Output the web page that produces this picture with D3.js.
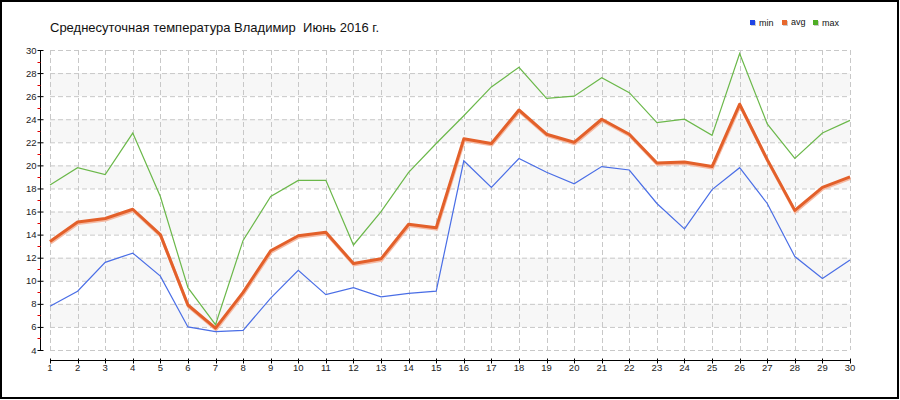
<!DOCTYPE html>
<html><head><meta charset="utf-8">
<script src="https://cdnjs.cloudflare.com/ajax/libs/d3/7.8.5/d3.min.js"></script>
<style>body{margin:0;background:#fff}svg{display:block}text{font-family:"Liberation Sans",Arial,sans-serif}</style>
</head><body><svg id="c" width="900" height="400"></svg>
<script>
const title = "Среднесуточная температура Владимир  Июнь 2016 г.";
const days = d3.range(1, 31);
const minVals = [7.8,9.1,11.6,12.4,10.4,6.0,5.6,5.7,8.5,10.9,8.8,9.4,8.6,8.9,9.1,20.4,18.1,20.6,19.4,18.4,19.9,19.6,16.7,14.5,17.9,19.8,16.7,12.1,10.2,11.8];
const avgVals = [13.4,15.1,15.4,16.2,14.0,7.9,5.9,9.0,12.6,13.9,14.2,11.5,11.9,14.9,14.6,22.3,21.9,24.8,22.7,22.0,24.0,22.7,20.2,20.3,19.9,25.3,20.5,16.1,18.1,19.0];
const maxVals = [18.3,19.8,19.2,22.8,17.3,9.4,6.2,13.5,17.3,18.7,18.7,13.1,16.0,19.4,21.9,24.3,26.8,28.5,25.8,26.0,27.6,26.3,23.7,24.0,22.6,29.7,23.6,20.6,22.8,23.9];
const seriesNames = ["min","avg","max"];
const seriesColors = ["#4a6ee6","#e3602a","#6bb84a"];
const legendColors = ["#1f45e6","#e8682e","#4fae25"];
const yTicks = d3.range(4, 31, 2);
const yMinor = d3.range(5, 30, 2);

const svg = d3.select("#c");
const x = d3.scaleLinear().domain([1,30]).range([50,850]);
const y = d3.scaleLinear().domain([4,30]).range([350,50]);

// bands
const bandStarts = [6,10,14,18,22,26];
svg.selectAll("rect.band").data(bandStarts).join("rect")
  .attr("x", x(1)).attr("width", x(30)-x(1))
  .attr("y", d => y(d+2)).attr("height", d => y(d)-y(d+2))
  .attr("fill", "#f7f7f7");

// grid
svg.selectAll("line.hg").data(yTicks).join("line")
  .attr("x1", x(1)).attr("x2", x(30)).attr("y1", d=>y(d)+0.5).attr("y2", d=>y(d)+0.5)
  .attr("stroke","#c8c8c8").attr("stroke-dasharray","5,3");
svg.selectAll("line.vg").data(days).join("line")
  .attr("x1", d=>Math.round(x(d))+0.5).attr("x2", d=>Math.round(x(d))+0.5).attr("y1", y(30)).attr("y2", y(4))
  .attr("stroke","#c8c8c8").attr("stroke-dasharray","5,3");

// y axis
const yAxis = svg.append("g").attr("transform","translate(40.5,0)");
yAxis.append("line").attr("x1",0).attr("x2",0).attr("y1",y(30)).attr("y2",y(4)+0.5).attr("stroke","#000");
yAxis.selectAll("line.mt").data(yTicks).join("line")
  .attr("x1",-3).attr("x2",3).attr("y1",d=>y(d)+0.5).attr("y2",d=>y(d)+0.5).attr("stroke","#000");
yAxis.selectAll("line.mn").data(yMinor).join("line")
  .attr("x1",-3).attr("x2",0).attr("y1",d=>Math.round(y(d))+0.5).attr("y2",d=>Math.round(y(d))+0.5).attr("stroke","#e00000");
yAxis.selectAll("text").data(yTicks).join("text")
  .attr("x",-4).attr("y",d=>y(d)+3.5).attr("text-anchor","end")
  .attr("font-size","9.5px").attr("fill","#222").text(d=>d);

// x axis
const xAxis = svg.append("g").attr("transform","translate(0,360.5)");
xAxis.append("line").attr("x1",x(1)).attr("x2",x(30)).attr("stroke","#000");
xAxis.selectAll("line.t").data(days).join("line")
  .attr("x1",d=>Math.round(x(d))+0.5).attr("x2",d=>Math.round(x(d))+0.5).attr("y1",-2).attr("y2",3).attr("stroke","#000");
xAxis.selectAll("text").data(days).join("text")
  .attr("x",d=>x(d)).attr("y",10).attr("text-anchor","middle")
  .attr("font-size","9.5px").attr("fill","#222").text(d=>d);

// lines
const line = d3.line().x((d,i)=>x(days[i])).y(d=>y(d));
svg.append("path").datum(avgVals).attr("d",line).attr("fill","none")
  .attr("stroke","#f5b9a2").attr("stroke-width",3).attr("transform","translate(0.5,1.5)");
svg.append("path").datum(minVals).attr("d",line).attr("fill","none").attr("stroke",seriesColors[0]).attr("stroke-width",1.2);
svg.append("path").datum(maxVals).attr("d",line).attr("fill","none").attr("stroke",seriesColors[2]).attr("stroke-width",1.2);
svg.append("path").datum(avgVals).attr("d",line).attr("fill","none").attr("stroke",seriesColors[1]).attr("stroke-width",3).attr("stroke-linejoin","round");

// title
svg.append("text").attr("x",50).attr("y",32).attr("font-size","13px").attr("fill","#111")
  .style("white-space","pre").text(title);

// legend
const legX = [750,782,813];
const leg = svg.selectAll("g.leg").data(seriesNames).join("g").attr("transform",(d,i)=>`translate(${legX[i]},20)`);
leg.append("rect").attr("x",1).attr("y",1).attr("width",5).attr("height",5).attr("fill","#ccc");
leg.append("rect").attr("x",0).attr("y",0).attr("width",5).attr("height",5).attr("fill",(d,i)=>legendColors[i]);
leg.append("text").attr("x",9).attr("y",(d,i)=>i===1?5:6).attr("font-size","9px").attr("fill","#111").text(d=>d);

// frame
svg.append("rect").attr("x",1).attr("y",1).attr("width",897).attr("height",397).attr("fill","none").attr("stroke","#000").attr("stroke-width",2);
</script></body></html>
